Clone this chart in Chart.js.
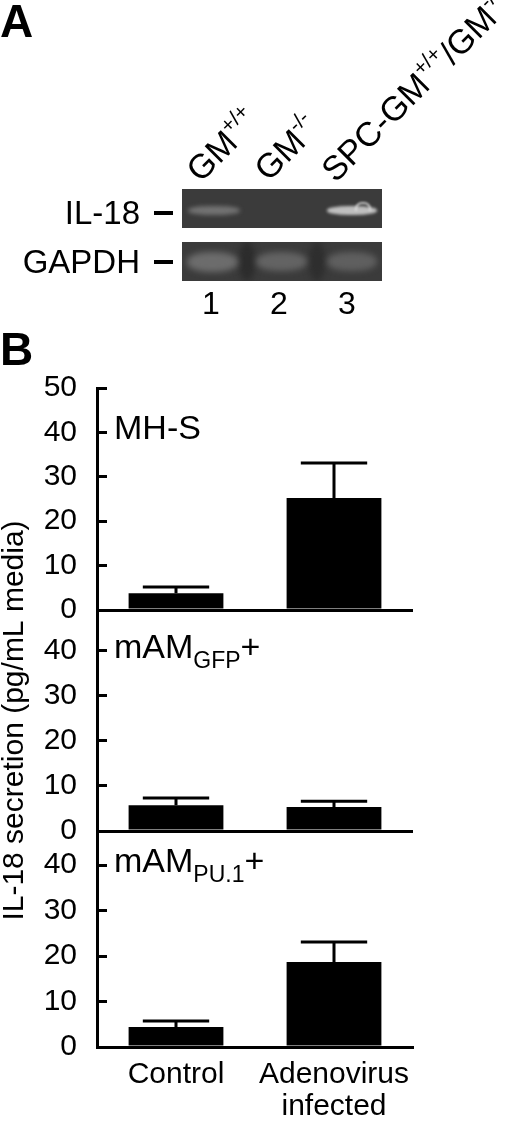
<!DOCTYPE html>
<html>
<head>
<meta charset="utf-8">
<script src="https://cdn.jsdelivr.net/npm/chart.js@4.4.1/dist/chart.umd.min.js"></script>
<style>
  html, body { margin: 0; padding: 0; background: #fff; }
  #wrap { position: relative; width: 520px; height: 1124px; overflow: hidden; }
  #chart { position: absolute; left: 0; top: 0; }
  .lbl { position: absolute; font-family: 'Liberation Sans', Arial, Helvetica, sans-serif; color: #000; line-height: 1; white-space: nowrap; }
  .big { font-weight: bold; font-size: 46px; }
  .rot { font-size: 34px; transform-origin: 0 100%; transform: rotate(-45deg); }
  .rot sup { font-size: 0.62em; vertical-align: 0.72em; line-height: 0; }
  .gel { position: absolute; left: 182px; width: 200px; height: 39px; background: #3b3b3b; overflow: hidden; }
  .band { position: absolute; border-radius: 45%; }
  .dash { position: absolute; left: 154px; width: 19px; height: 4px; background: #000; }
</style>
</head>
<body>
<div id="wrap">
  <canvas id="chart" width="520" height="1124"></canvas>

  <!-- panel A: gel photo -->
  <div class="lbl big" style="left:0px;top:-2px">A</div>
  <div class="lbl rot" style="left:204px;top:153px">GM<sup>+/+</sup></div>
  <div class="lbl rot" style="left:272px;top:152px">GM<sup>-/-</sup></div>
  <div class="lbl rot" style="left:339px;top:153px">SPC-GM<sup>+/+</sup>/GM<sup>-/-</sup></div>

  <div class="lbl" style="right:380px;top:196px;font-size:33px">IL-18</div>
  <div class="dash" style="top:211px"></div>
  <div class="lbl" style="right:380px;top:245px;font-size:33px">GAPDH</div>
  <div class="dash" style="top:260px"></div>

  <div class="gel" style="top:189px">
    <div class="band" style="left:6px;top:17px;width:52px;height:9px;background:rgba(170,170,170,0.5);filter:blur(2px)"></div>
    <div class="band" style="left:145px;top:17px;width:50px;height:9px;background:rgba(215,215,215,0.85);filter:blur(1.5px)"></div>
    <div style="position:absolute;left:173px;top:13px;width:12px;height:7px;border:2px solid rgba(225,225,225,0.85);border-bottom:none;border-radius:7px 7px 0 0;filter:blur(0.8px)"></div>
  </div>
  <div class="gel" style="top:242px">
    <div class="band" style="left:57px;top:0px;width:16px;height:39px;background:#2c2c2c;filter:blur(3px)"></div>
    <div class="band" style="left:127px;top:0px;width:16px;height:39px;background:#2e2e2e;filter:blur(3px)"></div>
    <div class="band" style="left:5px;top:10px;width:51px;height:20px;background:rgba(150,150,150,0.55);filter:blur(3px)"></div>
    <div class="band" style="left:74px;top:10px;width:51px;height:19px;background:rgba(140,140,140,0.5);filter:blur(3px)"></div>
    <div class="band" style="left:145px;top:10px;width:50px;height:19px;background:rgba(140,140,140,0.45);filter:blur(3px)"></div>
  </div>

  <div class="lbl" style="left:202px;top:287px;font-size:32px">1</div>
  <div class="lbl" style="left:270px;top:287px;font-size:32px">2</div>
  <div class="lbl" style="left:338px;top:287px;font-size:32px">3</div>

  <div class="lbl big" style="left:0px;top:326px">B</div>
</div>

<script>
// ============================
// DATA
// ============================
const categories = ['Control', ['Adenovirus', 'infected']];

const mhsValues = [3.8, 25.2];
const mhsErrors = [1.4, 7.9];
const gfpValues = [5.7, 5.3];
const gfpErrors = [1.6, 1.3];
const pu1Values = [4.4, 18.7];
const pu1Errors = [1.3, 4.4];

const panelNames = ['MH-S', 'mAM', 'mAM'];
const panelSubs = ['', 'GFP', 'PU.1'];
const panelMax = [50, 49, 47.5];
const tickStep = 10;
const labelAt = 40; // panel names sit at the 40 tick

const FONT = "'Liberation Sans', Arial, Helvetica, sans-serif";
Chart.defaults.font.family = FONT;
Chart.defaults.color = '#000';


// ============================
// ERROR BARS (upper only)
// ============================
const errorBars = {
    id: 'errorBars',
    afterDatasetsDraw(chart) {
        const ctx = chart.ctx;
        chart.data.datasets.forEach((ds, i) => {
            const meta = chart.getDatasetMeta(i);
            const yScale = chart.scales[meta.yAxisID];
            meta.data.forEach((bar, j) => {
                const top = yScale.getPixelForValue(ds.data[j] + ds.errors[j]);
                const half = bar.width * 0.35;
                ctx.save();
                ctx.strokeStyle = '#000';
                ctx.lineWidth = 3;
                ctx.beginPath();
                ctx.moveTo(bar.x, bar.y);
                ctx.lineTo(bar.x, top);
                ctx.moveTo(bar.x - half, top);
                ctx.lineTo(bar.x + half, top);
                ctx.stroke();
                ctx.restore();
            });
        });
    }
};


// ============================
// PANEL NAMES (with subscripts)
// ============================
const panelLabels = {
    id: 'panelLabels',
    afterDatasetsDraw(chart) {
        const ctx = chart.ctx;
        const x0 = chart.chartArea.left + 17;
        ['y1', 'y2', 'y3'].forEach((id, i) => {
            const base = chart.scales[id].getPixelForValue(labelAt) + 7;
            ctx.save();
            ctx.fillStyle = '#000';
            ctx.textBaseline = 'alphabetic';
            ctx.textAlign = 'left';
            ctx.font = '34px ' + FONT;
            ctx.fillText(panelNames[i], x0, base);
            let x = x0 + ctx.measureText(panelNames[i]).width;
            if (panelSubs[i]) {
                ctx.font = '23px ' + FONT;
                ctx.fillText(panelSubs[i], x, base + 10);
                x += ctx.measureText(panelSubs[i]).width;
                ctx.font = '34px ' + FONT;
                ctx.fillText('+', x, base);
            }
            ctx.restore();
        });
    }
};


// ============================
// STACKED Y AXES
// ============================
function panelAxis(max, height, order, title) {
    return {
        type: 'linear',
        position: 'left',
        stack: 'panels',
        stackWeight: height,
        weight: order,
        min: 0,
        max: max,
        border: { display: true, color: '#000', width: 3 },
        grid: {
            drawOnChartArea: true,
            drawTicks: true,
            tickLength: -10,
            tickWidth: 3,
            tickColor: '#000',
            lineWidth: 3,
            color: (c) => (c.tick && c.tick.value === 0 ? '#000' : 'rgba(0,0,0,0)')
        },
        ticks: {
            stepSize: tickStep,
            includeBounds: false,
            autoSkip: false,
            padding: 30,
            color: '#000',
            font: { size: 30 }
        },
        title: title ? {
            display: true,
            text: title,
            color: '#000',
            font: { size: 30, lineHeight: 1 },
            padding: 0
        } : { display: false },
        afterFit: (s) => { s.width = 97; }
    };
}

new Chart(document.getElementById('chart'), {
    type: 'bar',
    data: {
        labels: categories,
        datasets: [
            { label: 'MH-S', data: mhsValues, errors: mhsErrors, yAxisID: 'y1', backgroundColor: '#000' },
            { label: 'mAM GFP+', data: gfpValues, errors: gfpErrors, yAxisID: 'y2', backgroundColor: '#000' },
            { label: 'mAM PU.1+', data: pu1Values, errors: pu1Errors, yAxisID: 'y3', backgroundColor: '#000' }
        ]
    },
    options: {
        responsive: false,
        animation: false,
        devicePixelRatio: 1,
        layout: { padding: { top: 388, right: 107, bottom: 0, left: 0 } },
        datasets: {
            bar: { grouped: false, barPercentage: 0.6, categoryPercentage: 1, borderWidth: 0 }
        },
        scales: {
            x: {
                type: 'category',
                offset: true,
                grid: { display: true, drawOnChartArea: false, drawTicks: false },
                border: { display: true, color: '#000', width: 3 },
                ticks: { color: '#000', font: { size: 30, lineHeight: 1.05 }, padding: 12, maxRotation: 0, autoSkip: false },
                afterFit: (s) => { s.height = 77; }
            },
            y1: panelAxis(panelMax[0], 222, 3),
            y2: panelAxis(panelMax[1], 221, 2, 'IL-18 secretion (pg/mL media)'),
            y3: panelAxis(panelMax[2], 216, 1)
        },
        plugins: {
            legend: { display: false },
            tooltip: { enabled: false }
        }
    },
    plugins: [errorBars, panelLabels]
});
</script>
</body>
</html>
